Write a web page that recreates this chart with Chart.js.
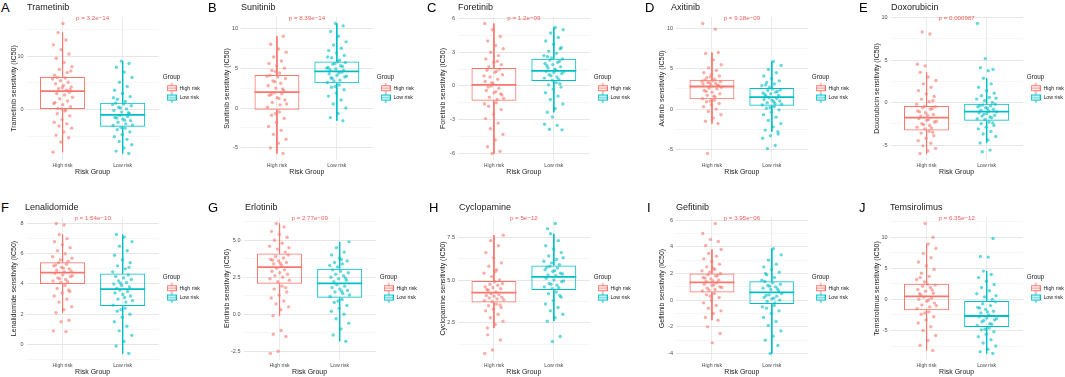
<!DOCTYPE html>
<html>
<head>
<meta charset="utf-8">
<script src="https://cdn.jsdelivr.net/npm/chart.js@4.4.1/dist/chart.umd.min.js"></script>
<style>
html, body { margin: 0; padding: 0; background: #fff; overflow: hidden; }
#fig { position: relative; width: 1065px; height: 377px; font-family: "Liberation Sans", Arial, sans-serif; }
#fig canvas { position: absolute; }
.tag { position: absolute; font-size: 13px; line-height: 1; color: #000; }
.ttl { position: absolute; font-size: 9px; line-height: 1; color: #1a1a1a; white-space: nowrap; }
</style>
</head>
<body>
<div id="fig"></div>
<script>
// ---- data ----
const DRUGS = ['Trametinib', 'Sunitinib', 'Foretinib', 'Axitinib', 'Doxorubicin',
               'Lenalidomide', 'Erlotinib', 'Cyclopamine', 'Gefitinib', 'Temsirolimus'];
const LETTERS = ['A', 'B', 'C', 'D', 'E', 'F', 'G', 'H', 'I', 'J'];
const P_LABELS = ['p = 3.2e\u221214', 'p = 8.39e\u221214', 'p = 1.2e\u221209', 'p = 9.18e\u221209', 'p = 0.000987',
                  'p = 1.54e\u221210', 'p = 2.77e\u221209', 'p = 5e\u221212', 'p = 3.95e\u221206', 'p = 6.35e\u221212'];
const GROUPS = ['High risk', 'Low risk'];

// boxplot stats: [lower whisker, Q1, median, Q3, upper whisker]
const HIGH_BOX = [
  [-8.0, 0.0, 3.44, 6.06, 14.4], [-5.7, -0.2, 2.0, 4.15, 9.0], [-6.0, -1.31, 0.09, 1.6, 5.55],
  [-1.8, 1.23, 2.8, 3.62, 7.0], [-6.0, -3.28, -1.78, -0.42, 3.55], [2.1, 4.0, 4.75, 5.44, 7.27],
  [-0.1, 2.06, 3.19, 4.1, 6.13], [2.2, 3.69, 4.27, 4.94, 7.62], [-1.5, 0.58, 1.34, 2.0, 3.8],
  [-8.2, -1.76, 0.48, 2.5, 8.9]
];
const LOW_BOX = [
  [-8.25, -3.25, -1.0, 1.25, 9.06], [-1.6, 3.1, 4.6, 5.85, 10.6], [-2.34, 0.44, 1.34, 2.42, 5.2],
  [-2.8, 0.41, 1.48, 2.6, 5.9], [-4.75, -2.16, -1.08, -0.15, 2.86], [-0.6, 2.54, 3.66, 4.69, 7.27],
  [-1.83, 1.11, 2.08, 3.08, 4.89], [2.6, 4.42, 5.18, 5.85, 7.7], [-4.0, -0.28, 0.58, 1.41, 3.86],
  [-8.7, -4.44, -2.67, -0.27, 4.55]
];

// individual samples (IC50), estimated
const HIGH_PTS = [
  [-0.3,-0.8,-1.2,-1.9,-2.4,-2.7,-3.1,-3.5,-4.2,-4.8,-5.3,-6.1,-8.0,-0.1,0.2,0.5,0.9,1.3,1.6,2.0,2.3,2.7,3.0,3.2,0.1,1.1,
   3.6,3.9,4.2,4.5,4.8,5.1,5.4,5.7,5.9,6.0,3.7,4.1,6.4,6.9,7.5,8.0,8.8,9.6,10.4,11.2,12.1,13.0,14.4,7.2,16.1],
  [-0.5,-0.9,-1.3,-1.8,-2.3,-2.8,-3.3,-3.9,-4.4,-5.0,-5.7,-0.7,0.1,0.4,0.7,1.0,1.3,1.6,1.8,1.9,0.5,1.2,1.7,
   2.2,2.5,2.8,3.1,3.4,3.7,3.9,4.1,2.4,3.3,4.0,4.4,4.7,5.0,5.3,5.6,5.9,6.4,7.0,7.4,8.0,9.0,4.6],
  [-1.5,-1.8,-2.1,-2.5,-2.9,-3.3,-3.8,-4.3,-4.8,-5.4,-5.8,-6.0,-1.6,-1.2,-1.0,-0.8,-0.6,-0.4,-0.2,0.0,-1.1,-0.5,-0.1,-0.7,
   0.2,0.4,0.6,0.8,1.0,1.2,1.4,1.5,0.3,0.9,1.3,1.7,1.9,2.1,2.4,2.7,3.0,3.3,3.6,4.0,4.4,5.0,5.55,2.2],
  [1.1,0.9,0.7,0.5,0.3,0.0,-0.3,-0.7,-1.1,-1.5,-1.8,1.0,1.3,1.5,1.7,1.9,2.1,2.3,2.5,2.6,2.7,1.6,2.2,
   2.9,3.0,3.1,3.2,3.3,3.4,3.5,3.6,2.95,3.25,3.45,3.7,3.9,4.1,4.3,4.5,4.8,5.1,5.5,6.1,6.9,7.0,4.0,10.6,9.9,-5.5],
  [-3.4,-3.6,-3.9,-4.2,-4.5,-4.8,-5.1,-5.4,-5.7,-6.0,-3.5,-3.1,-2.9,-2.7,-2.5,-2.3,-2.1,-1.9,-3.0,-2.6,-2.2,-2.0,
   -1.6,-1.4,-1.2,-1.0,-0.8,-0.6,-0.5,-1.5,-1.1,-0.7,-0.45,-0.2,0.1,0.4,0.7,1.0,1.4,1.8,2.2,2.6,3.0,3.55,0.2,4.3,4.5,8.07,8.3],
  [3.9,3.7,3.5,3.4,3.2,3.0,2.8,2.5,2.3,2.1,3.6,4.1,4.2,4.3,4.4,4.5,4.6,4.7,4.15,4.35,4.55,
   4.8,4.9,5.0,5.1,5.2,5.3,5.4,4.85,5.05,5.25,5.5,5.6,5.8,6.0,6.2,6.4,6.6,6.8,7.0,7.27,5.7,7.9,8.0,1.6,1.5,0.9,0.85],
  [1.9,1.7,1.5,1.3,1.1,0.9,0.7,0.5,0.3,-0.1,1.8,2.2,2.4,2.5,2.6,2.7,2.8,2.9,3.0,3.1,2.3,
   3.3,3.4,3.5,3.6,3.7,3.8,3.9,4.0,3.45,3.65,4.2,4.4,4.6,4.8,5.0,5.2,5.4,5.6,5.9,6.13,4.5,-1.1,-1.35,-1.5,-2.5,-2.65],
  [3.6,3.5,3.4,3.3,3.2,3.0,2.8,2.6,2.4,2.2,3.55,3.75,3.8,3.9,3.95,4.0,4.05,4.1,4.15,4.2,3.85,
   4.3,4.4,4.5,4.55,4.6,4.7,4.75,4.8,4.9,4.45,5.0,5.2,5.4,5.6,5.8,6.0,6.3,6.6,7.0,7.3,7.62,5.5,1.8,1.5,0.91,0.71],
  [0.5,0.4,0.2,0.0,-0.2,-0.4,-0.6,-0.8,-1.0,-1.3,-1.5,0.3,0.7,0.8,0.9,1.0,1.1,1.2,1.3,0.75,0.95,1.15,
   1.4,1.5,1.6,1.7,1.8,1.9,2.0,1.45,1.65,1.85,2.1,2.2,2.3,2.5,2.7,2.9,3.1,3.3,3.5,3.8,2.4,4.1,4.4,4.55,5.0,5.75,-2.0,-2.5,-3.2],
  [-2.0,-2.4,-2.8,-3.3,-3.8,-4.4,-5.0,-5.8,-6.6,-7.4,-8.2,-2.2,-1.5,-1.2,-0.9,-0.6,-0.3,0.0,0.2,0.4,-1.0,-0.1,
   0.7,1.0,1.3,1.6,1.9,2.1,2.3,2.45,0.9,1.5,2.8,3.2,3.7,4.2,4.8,5.4,6.0,6.7,7.4,8.2,8.9,3.5,10.0,12.2]
];
const LOW_PTS = [
  [-3.5,-3.8,-4.2,-4.7,-5.1,-5.6,-6.0,-6.6,-7.2,-7.8,-8.25,-3.4,-3.0,-2.7,-2.4,-2.1,-1.8,-1.5,-1.3,-1.1,-2.9,-2.0,-1.6,
   -0.8,-0.5,-0.2,0.1,0.4,0.7,1.0,1.2,-0.6,0.3,0.9,1.5,1.9,2.4,3.0,3.6,4.3,5.1,6.0,7.0,7.9,8.6,9.06,2.2],
  [2.9,2.6,2.3,1.9,1.5,1.0,0.5,0.0,-0.7,-1.2,-1.6,2.7,3.2,3.5,3.7,3.9,4.1,4.3,4.5,3.4,4.0,4.4,3.8,
   4.7,4.9,5.1,5.3,5.5,5.7,5.8,4.8,5.2,5.6,5.0,6.0,6.3,6.6,6.9,7.2,7.5,7.9,8.3,9.0,9.6,10.3,10.6,6.4],
  [0.3,0.1,-0.1,-0.3,-0.6,-0.9,-1.2,-1.6,-2.0,-2.34,0.2,0.5,0.7,0.8,1.0,1.1,1.2,1.3,0.6,0.9,1.25,
   1.4,1.6,1.7,1.9,2.0,2.1,2.3,2.4,1.5,1.8,2.2,2.5,2.7,2.9,3.1,3.4,3.7,4.0,4.3,4.7,5.0,5.2,2.6,3.3,-2.75,-3.4,-3.5,-3.85,-3.9],
  [0.3,0.1,-0.1,-0.4,-0.7,-1.0,-1.4,-1.8,-2.2,-2.6,-2.8,0.2,0.5,0.7,0.8,1.0,1.1,1.2,1.3,1.4,0.6,0.9,
   1.6,1.7,1.9,2.0,2.1,2.3,2.4,2.5,1.8,2.2,2.7,2.9,3.1,3.3,3.5,3.8,4.1,4.5,4.9,5.4,5.9,3.0,-3.1,-3.3,-3.6,-4.5,-4.9],
  [-2.3,-2.5,-2.7,-2.9,-3.1,-3.4,-3.7,-4.0,-4.4,-4.75,-2.4,-2.0,-1.9,-1.7,-1.6,-1.5,-1.3,-1.2,-1.8,-1.4,-1.1,
   -1.0,-0.9,-0.8,-0.6,-0.5,-0.4,-0.3,-0.2,-0.7,-0.35,0.0,0.2,0.4,0.6,0.8,1.1,1.4,1.8,2.2,2.86,0.5,3.75,4.1,3.9,5.17,9.3,-5.6,-5.8],
  [2.4,2.2,2.0,1.8,1.5,1.2,0.9,0.6,0.2,-0.1,-0.6,2.3,2.6,2.8,3.0,3.2,3.3,3.4,3.5,3.6,2.9,3.1,
   3.7,3.8,3.9,4.0,4.1,4.2,4.3,4.4,4.5,4.6,4.05,4.8,5.0,5.2,5.4,5.6,5.9,6.2,6.5,6.8,7.1,7.27,5.1],
  [1.0,0.8,0.6,0.4,0.2,0.0,-0.3,-0.6,-1.0,-1.4,-1.83,0.9,1.2,1.4,1.5,1.6,1.7,1.8,1.9,2.0,1.3,1.55,
   2.2,2.3,2.4,2.5,2.6,2.7,2.8,2.9,3.0,2.45,3.2,3.3,3.4,3.5,3.6,3.8,4.0,4.2,4.5,4.89,3.7],
  [4.3,4.2,4.0,3.8,3.6,3.4,3.2,3.0,2.8,2.6,4.1,4.5,4.6,4.7,4.8,4.9,5.0,5.1,4.55,4.75,4.95,
   5.25,5.3,5.4,5.5,5.6,5.7,5.8,5.35,5.55,5.75,5.9,6.0,6.1,6.2,6.4,6.6,6.8,7.0,7.3,7.7,6.3,8.3,8.0,1.7,1.41],
  [-0.4,-0.6,-0.8,-1.0,-1.3,-1.6,-1.9,-2.3,-2.7,-3.0,-3.4,-4.0,-0.5,-0.2,-0.1,0.0,0.1,0.2,0.3,0.4,0.5,0.15,0.35,
   0.7,0.8,0.9,1.0,1.1,1.2,1.3,1.4,0.85,1.05,1.5,1.7,1.9,2.1,2.3,2.5,2.7,3.0,3.4,3.86,2.0],
  [-4.6,-4.9,-5.2,-5.6,-6.0,-6.5,-7.0,-7.5,-8.0,-8.4,-8.7,-4.8,-4.2,-3.9,-3.6,-3.3,-3.0,-2.8,-4.0,-3.4,-3.1,
   -2.5,-2.2,-1.9,-1.6,-1.3,-1.0,-0.7,-0.4,-2.0,-1.4,0.0,0.4,0.9,1.4,1.9,2.4,2.9,3.5,4.0,4.55,0.6,6.8,6.9,9.8]
];

// y tick spacing (gridlines) and labelled spacing
const TICK_STEP = [5, 2.5, 1.5, 2.5, 2.5, 1, 1.25, 1.25, 1, 2.5];
const LABEL_STEP = [10, 5, 3, 5, 5, 2, 2.5, 2.5, 2, 5];
const DECIMALS = [0, 0, 0, 0, 0, 0, 1, 1, 0, 0];

// ---- layout ----
const FONT = '"Liberation Sans", Arial, sans-serif';
const COLORS = ['#F8766D', '#00BFC4'];
const FILLS = ['rgba(248,118,109,0.6)', 'rgba(0,191,196,0.6)'];
const BOX_W = 0.75;
const PLOT_W = 132;
const ROW_TOP = [0, 200];
const PLOT_LEFT = [26.5, 241, 458, 676, 890.5, 26.5, 243.5, 458, 676, 890.5];
const YTITLE_X = [14, 227, 443.5, 662, 877, 14, 227, 443.5, 662, 877];
const LETTER_X = [1, 208, 427, 645, 859, 1, 208, 429, 647, 859];
const TITLE_X = [27, 241, 458, 671, 891, 25, 245, 459, 676, 890];
const LEG_SHIFT = 4;

Chart.defaults.font.family = FONT;
Chart.defaults.color = '#4D4D4D';

const jit = k => (((k + 1) * 0.6180339887) % 1 - 0.5) * 0.34;

// boxplot key used in the legend
function glyph(color) {
  const c = document.createElement('canvas');
  c.width = 10; c.height = 10;
  const g = c.getContext('2d');
  g.strokeStyle = color; g.lineWidth = 1;
  g.strokeRect(0.5, 2.5, 9, 5);
  g.beginPath();
  g.moveTo(5, 0); g.lineTo(5, 2.5);
  g.moveTo(5, 7.5); g.lineTo(5, 10);
  g.moveTo(0.5, 5); g.lineTo(9.5, 5);
  g.stroke();
  return c;
}
const GLYPHS = COLORS.map(glyph);

const pLabel = {
  id: 'pLabel',
  afterDatasetsDraw(chart, args, opts) {
    const { ctx, chartArea, scales } = chart;
    ctx.save();
    ctx.font = '6.2px ' + FONT;
    ctx.fillStyle = '#F0605A';
    ctx.textAlign = 'center';
    ctx.textBaseline = 'middle';
    ctx.fillText(opts.text, scales.x.getPixelForValue(1.5), chartArea.top + 1.5);
    ctx.restore();
  }
};
// nudge legend off the panel edge like ggplot does
const legendShift = {
  id: 'legendShift',
  afterLayout(chart) {
    const l = chart.legend;
    if (l) { l.left += LEG_SHIFT; l.right += LEG_SHIFT; }
  }
};

const fig = document.getElementById('fig');

function buildConfig(i, axisW) {
  const drug = DRUGS[i];
  const datasets = [];
  [HIGH_PTS[i], LOW_PTS[i]].forEach((vals, g) => {
    datasets.push({
      type: 'scatter', data: vals.map((v, k) => ({ x: g + 1 + jit(k), y: v })),
      pointRadius: 1.7, pointHoverRadius: 1.7, backgroundColor: FILLS[g], borderWidth: 0, order: 0
    });
  });
  [HIGH_BOX[i], LOW_BOX[i]].forEach((b, g) => {
    const [lo, q1, med, q3, hi] = b;
    const x = g + 1;
    datasets.push({
      type: 'bar', data: [{ x: x, y: [q1, q3] }],
      backgroundColor: 'rgba(255,255,255,0)', borderColor: COLORS[g], borderWidth: 1,
      borderSkipped: false, grouped: false, categoryPercentage: 1, barPercentage: BOX_W, order: 2
    });
    datasets.push({
      type: 'line', data: [{ x: x, y: hi }, { x: x, y: q3 }, { x: x, y: null }, { x: x, y: q1 }, { x: x, y: lo }],
      borderColor: COLORS[g], borderWidth: 1, pointRadius: 0, spanGaps: false, fill: false, order: 3
    });
    datasets.push({
      type: 'line', data: [{ x: x - BOX_W / 2, y: med }, { x: x + BOX_W / 2, y: med }],
      borderColor: COLORS[g], borderWidth: 1.8, pointRadius: 0, fill: false, order: 1
    });
  });

  // y limits: data range + 5 %
  const all = HIGH_PTS[i].concat(LOW_PTS[i], HIGH_BOX[i], LOW_BOX[i]);
  const dMin = Math.min(...all), dMax = Math.max(...all);
  const pad = (dMax - dMin) * 0.05;
  const isMajor = v => Math.abs(v / LABEL_STEP[i] - Math.round(v / LABEL_STEP[i])) < 1e-6;

  return {
    type: 'scatter',
    data: { datasets },
    plugins: [pLabel, legendShift],
    options: {
      responsive: false, maintainAspectRatio: false, animation: false, devicePixelRatio: 1,
      layout: { padding: { top: 17, right: LEG_SHIFT, left: 0, bottom: 0 } },
      scales: {
        x: {
          type: 'linear', min: 0.4, max: 2.6, offset: false,
          afterBuildTicks: s => { s.ticks = [{ value: 1 }, { value: 2 }]; },
          afterFit: s => { s.height = 20; },
          ticks: { callback: v => GROUPS[Math.round(v) - 1], font: { size: 5.2 }, color: '#4D4D4D', padding: 2.5, autoSkip: false, maxRotation: 0 },
          grid: { color: '#EBEBEB', lineWidth: 1, drawTicks: false, offset: false },
          border: { display: false },
          title: { display: true, text: 'Risk Group', font: { size: 7 }, color: '#1a1a1a', padding: { top: 0, bottom: 3.5 } }
        },
        y: {
          type: 'linear', min: dMin - pad, max: dMax + pad,
          afterBuildTicks: s => {
            const st = TICK_STEP[i], t = [];
            for (let v = Math.ceil(s.min / st - 1e-9) * st; v <= s.max + 1e-9; v += st) t.push({ value: +v.toFixed(4) });
            s.ticks = t;
          },
          afterFit: s => { s.width = axisW; },
          ticks: {
            callback: v => isMajor(v) ? v.toFixed(DECIMALS[i]) : '',
            font: { size: 5.5 }, color: '#4D4D4D', padding: 3, autoSkip: false
          },
          grid: {
            drawTicks: false,
            color: c => isMajor(c.tick.value) ? '#E6E6E6' : '#F0F0F0',
            lineWidth: c => isMajor(c.tick.value) ? 1 : 0.6
          },
          border: { display: false },
          title: { display: true, text: drug + ' sensitivity (IC50)', font: { size: 7 }, color: '#1a1a1a', padding: { top: 0, bottom: 0 } }
        }
      },
      plugins: {
        pLabel: { text: P_LABELS[i] },
        tooltip: { enabled: false },
        legend: {
          position: 'right', align: 'start',
          title: { display: true, text: 'Group', position: 'start', color: '#1a1a1a', font: { size: 6.3 }, padding: { top: 57, bottom: 0 } },
          labels: {
            usePointStyle: true, pointStyleWidth: 10, boxHeight: 5.3, padding: 4,
            font: { size: 5.3 }, color: '#1a1a1a',
            generateLabels: () => GROUPS.map((t, g) => ({
              text: t, pointStyle: GLYPHS[g], fillStyle: COLORS[g], strokeStyle: COLORS[g],
              lineWidth: 0, hidden: false, datasetIndex: g, fontColor: '#1a1a1a'
            }))
          }
        }
      }
    }
  };
}

DRUGS.forEach((drug, i) => {
  const row = i < 5 ? 0 : 1;
  const top = ROW_TOP[row];
  const cLeft = Math.round(YTITLE_X[i] - 4.2);
  const axisW = PLOT_LEFT[i] - cLeft;

  const tag = document.createElement('div');
  tag.className = 'tag'; tag.textContent = LETTERS[i];
  tag.style.left = LETTER_X[i] + 'px'; tag.style.top = (top + 1) + 'px';
  const ttl = document.createElement('div');
  ttl.className = 'ttl'; ttl.textContent = drug;
  ttl.style.left = TITLE_X[i] + 'px'; ttl.style.top = (top + 3) + 'px';

  const cv = document.createElement('canvas');
  cv.width = Math.ceil(axisW + PLOT_W + 80); cv.height = 180;
  cv.style.left = cLeft + 'px'; cv.style.top = top + 'px';
  fig.appendChild(cv); fig.appendChild(tag); fig.appendChild(ttl);

  let chart = new Chart(cv, buildConfig(i, axisW));
  // size the canvas so the plotting panel is PLOT_W wide, legend to its right
  const extra = chart.chartArea.right - (axisW + PLOT_W);
  if (Math.abs(extra) > 0.5) {
    const w = Math.round(cv.width - extra);
    chart.destroy();
    cv.width = w; cv.height = 180;
    chart = new Chart(cv, buildConfig(i, axisW));
  }
});
</script>
</body>
</html>
